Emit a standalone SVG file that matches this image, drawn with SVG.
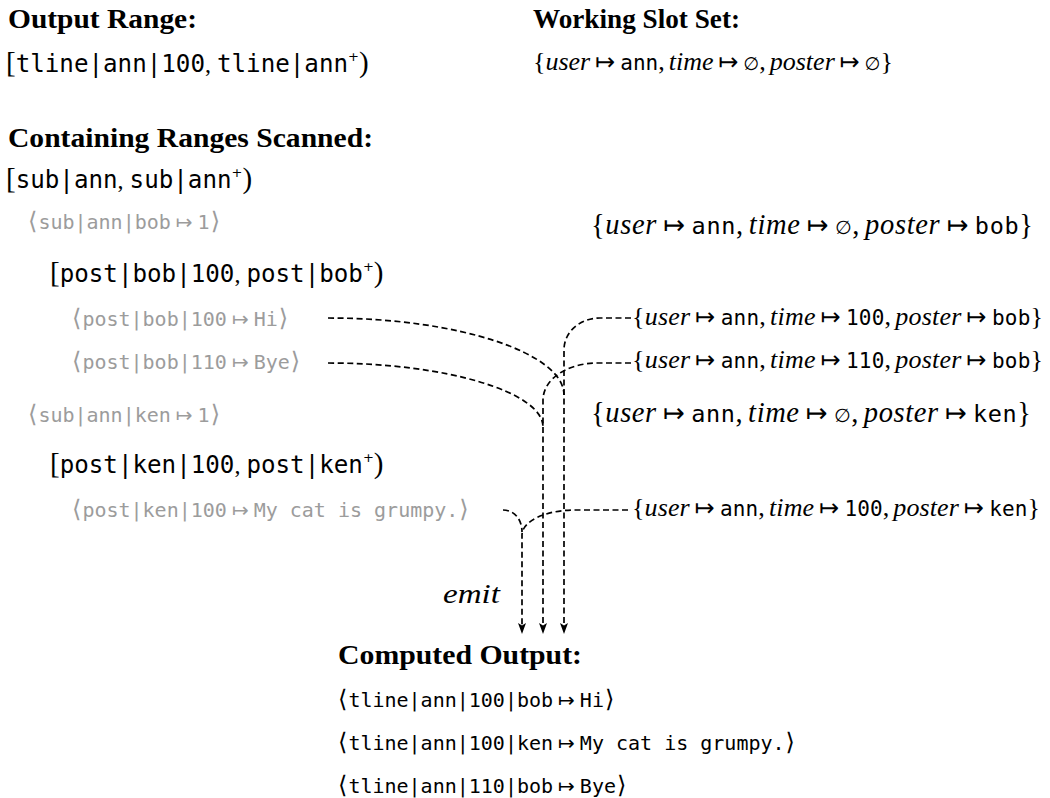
<svg xmlns="http://www.w3.org/2000/svg" width="1050" height="798" viewBox="0 0 1050 798">
  <defs>
    <marker id="arrow" markerUnits="userSpaceOnUse" viewBox="0 0 11 8" markerWidth="11" markerHeight="8" refX="4" refY="4" orient="auto">
      <path d="M0,0 L11,4 L0,8 L2.5,4 z" fill="#000" stroke="none"/>
    </marker>
    <style>
      .h { font-family: "Liberation Serif", "DejaVu Serif", serif; font-weight: bold; font-size: 26.5px; fill: #000; }
      .fm { font-family: "DejaVu Sans Mono", "Liberation Mono", monospace; }
      .fs { font-family: "Liberation Serif", "DejaVu Serif", serif; }
      .fi { font-family: "Liberation Serif", "DejaVu Serif", serif; font-style: italic; }
      .fx { font-family: "DejaVu Sans", sans-serif; }
      .rng { font-size: 24.2px; fill: #000; }
      .tup { font-size: 20px; fill: #9c9c9c; }
      .out { font-size: 20px; fill: #000; }
      .set { font-size: 26px; fill: #000; }
      .big { font-size: 28.5px; fill: #000; }
      .edge { fill: none; stroke: #000; stroke-width: 1.7; stroke-dasharray: 6 3.5; }
    </style>
  </defs>

  <!-- headings -->
  <g id="heading-output-range"><text class="h" x="8" y="28" textLength="189" lengthAdjust="spacingAndGlyphs">Output Range:</text></g>
  <g id="heading-slot-set"><text class="h" x="533" y="28" textLength="207" lengthAdjust="spacingAndGlyphs">Working Slot Set:</text></g>
  <g id="heading-scanned"><text class="h" x="8" y="147" textLength="365" lengthAdjust="spacingAndGlyphs">Containing Ranges Scanned:</text></g>
  <g id="heading-computed"><text class="h" x="338" y="664" textLength="244" lengthAdjust="spacingAndGlyphs">Computed Output:</text></g>

  <!-- output range -->
  <g id="range-tline">
    <text class="rng" x="6" y="72"><tspan class="fs" font-size="29">[</tspan><tspan class="fm">tline|ann|100</tspan><tspan class="fs" font-size="24">,</tspan><tspan class="fm" dx="6">tline|ann</tspan><tspan class="fx" font-size="13" dy="-11">+</tspan><tspan class="fs" font-size="29" dy="11">)</tspan></text>
  </g>

  <!-- initial slot set -->
  <g id="slots-initial">
    <text class="set" x="533" y="70" textLength="360" lengthAdjust="spacing"><tspan class="fs">{</tspan><tspan class="fi">user</tspan><tspan class="fx" font-size="24" dx="5">↦</tspan><tspan class="fm" font-size="21" dx="5">ann</tspan><tspan class="fs">,</tspan><tspan class="fi" dx="4">time</tspan><tspan class="fx" font-size="24" dx="5">↦</tspan><tspan class="fx" font-size="18" dx="5">∅</tspan><tspan class="fs">,</tspan><tspan class="fi" dx="4">poster</tspan><tspan class="fx" font-size="24" dx="5">↦</tspan><tspan class="fx" font-size="18" dx="5">∅</tspan><tspan class="fs">}</tspan></text>
  </g>

  <!-- scanned ranges and tuples -->
  <g id="range-sub-ann">
    <text class="rng" x="6" y="188"><tspan class="fs" font-size="29">[</tspan><tspan class="fm">sub|ann</tspan><tspan class="fs" font-size="24">,</tspan><tspan class="fm" dx="6">sub|ann</tspan><tspan class="fx" font-size="13" dy="-11">+</tspan><tspan class="fs" font-size="29" dy="11">)</tspan></text>
  </g>
  <g id="tuple-sub-bob">
    <text class="tup" x="28" y="229"><tspan class="fx" font-size="24">⟨</tspan><tspan class="fm" dx="1">sub|ann|bob</tspan><tspan class="fx" font-size="20" dx="5">↦</tspan><tspan class="fm" dx="5">1</tspan><tspan class="fx" font-size="24" dx="1">⟩</tspan></text>
  </g>
  <g id="slots-bob">
    <text class="big" x="591" y="234" textLength="442" lengthAdjust="spacing"><tspan class="fs">{</tspan><tspan class="fi">user</tspan><tspan class="fx" font-size="26" dx="6">↦</tspan><tspan class="fm" font-size="23.5" dx="6">ann</tspan><tspan class="fs">,</tspan><tspan class="fi" dx="5">time</tspan><tspan class="fx" font-size="26" dx="6">↦</tspan><tspan class="fx" font-size="19" dx="6">∅</tspan><tspan class="fs">,</tspan><tspan class="fi" dx="5">poster</tspan><tspan class="fx" font-size="26" dx="6">↦</tspan><tspan class="fm" font-size="23.5" dx="6">bob</tspan><tspan class="fs">}</tspan></text>
  </g>
  <g id="range-post-bob">
    <text class="rng" x="50" y="282"><tspan class="fs" font-size="29">[</tspan><tspan class="fm">post|bob|100</tspan><tspan class="fs" font-size="24">,</tspan><tspan class="fm" dx="6">post|bob</tspan><tspan class="fx" font-size="13" dy="-11">+</tspan><tspan class="fs" font-size="29" dy="11">)</tspan></text>
  </g>
  <g id="tuple-post-bob-100">
    <text class="tup" x="72" y="326"><tspan class="fx" font-size="24">⟨</tspan><tspan class="fm" dx="1">post|bob|100</tspan><tspan class="fx" font-size="20" dx="5">↦</tspan><tspan class="fm" dx="5">Hi</tspan><tspan class="fx" font-size="24" dx="1">⟩</tspan></text>
  </g>
  <g id="slots-bob-100">
    <text class="set" x="632" y="325" textLength="411" lengthAdjust="spacing"><tspan class="fs">{</tspan><tspan class="fi">user</tspan><tspan class="fx" font-size="24" dx="5">↦</tspan><tspan class="fm" font-size="21" dx="5">ann</tspan><tspan class="fs">,</tspan><tspan class="fi" dx="4">time</tspan><tspan class="fx" font-size="24" dx="5">↦</tspan><tspan class="fm" font-size="21" dx="5">100</tspan><tspan class="fs">,</tspan><tspan class="fi" dx="4">poster</tspan><tspan class="fx" font-size="24" dx="5">↦</tspan><tspan class="fm" font-size="21" dx="5">bob</tspan><tspan class="fs">}</tspan></text>
  </g>
  <g id="tuple-post-bob-110">
    <text class="tup" x="72" y="369"><tspan class="fx" font-size="24">⟨</tspan><tspan class="fm" dx="1">post|bob|110</tspan><tspan class="fx" font-size="20" dx="5">↦</tspan><tspan class="fm" dx="5">Bye</tspan><tspan class="fx" font-size="24" dx="1">⟩</tspan></text>
  </g>
  <g id="slots-bob-110">
    <text class="set" x="632" y="368" textLength="411" lengthAdjust="spacing"><tspan class="fs">{</tspan><tspan class="fi">user</tspan><tspan class="fx" font-size="24" dx="5">↦</tspan><tspan class="fm" font-size="21" dx="5">ann</tspan><tspan class="fs">,</tspan><tspan class="fi" dx="4">time</tspan><tspan class="fx" font-size="24" dx="5">↦</tspan><tspan class="fm" font-size="21" dx="5">110</tspan><tspan class="fs">,</tspan><tspan class="fi" dx="4">poster</tspan><tspan class="fx" font-size="24" dx="5">↦</tspan><tspan class="fm" font-size="21" dx="5">bob</tspan><tspan class="fs">}</tspan></text>
  </g>
  <g id="tuple-sub-ken">
    <text class="tup" x="28" y="422"><tspan class="fx" font-size="24">⟨</tspan><tspan class="fm" dx="1">sub|ann|ken</tspan><tspan class="fx" font-size="20" dx="5">↦</tspan><tspan class="fm" dx="5">1</tspan><tspan class="fx" font-size="24" dx="1">⟩</tspan></text>
  </g>
  <g id="slots-ken">
    <text class="big" x="591" y="422" textLength="440" lengthAdjust="spacing"><tspan class="fs">{</tspan><tspan class="fi">user</tspan><tspan class="fx" font-size="26" dx="6">↦</tspan><tspan class="fm" font-size="23.5" dx="6">ann</tspan><tspan class="fs">,</tspan><tspan class="fi" dx="5">time</tspan><tspan class="fx" font-size="26" dx="6">↦</tspan><tspan class="fx" font-size="19" dx="6">∅</tspan><tspan class="fs">,</tspan><tspan class="fi" dx="5">poster</tspan><tspan class="fx" font-size="26" dx="6">↦</tspan><tspan class="fm" font-size="23.5" dx="6">ken</tspan><tspan class="fs">}</tspan></text>
  </g>
  <g id="range-post-ken">
    <text class="rng" x="50" y="473"><tspan class="fs" font-size="29">[</tspan><tspan class="fm">post|ken|100</tspan><tspan class="fs" font-size="24">,</tspan><tspan class="fm" dx="6">post|ken</tspan><tspan class="fx" font-size="13" dy="-11">+</tspan><tspan class="fs" font-size="29" dy="11">)</tspan></text>
  </g>
  <g id="tuple-post-ken-100">
    <text class="tup" x="72" y="517"><tspan class="fx" font-size="24">⟨</tspan><tspan class="fm" dx="1">post|ken|100</tspan><tspan class="fx" font-size="20" dx="5">↦</tspan><tspan class="fm" dx="5">My cat is grumpy.</tspan><tspan class="fx" font-size="24" dx="1">⟩</tspan></text>
  </g>
  <g id="slots-ken-100">
    <text class="set" x="632" y="516" textLength="408" lengthAdjust="spacing"><tspan class="fs">{</tspan><tspan class="fi">user</tspan><tspan class="fx" font-size="24" dx="5">↦</tspan><tspan class="fm" font-size="21" dx="5">ann</tspan><tspan class="fs">,</tspan><tspan class="fi" dx="4">time</tspan><tspan class="fx" font-size="24" dx="5">↦</tspan><tspan class="fm" font-size="21" dx="5">100</tspan><tspan class="fs">,</tspan><tspan class="fi" dx="4">poster</tspan><tspan class="fx" font-size="24" dx="5">↦</tspan><tspan class="fm" font-size="21" dx="5">ken</tspan><tspan class="fs">}</tspan></text>
  </g>

  <!-- emit label -->
  <g id="label-emit"><text class="fi" x="443" y="603" font-size="27" textLength="57" lengthAdjust="spacingAndGlyphs">emit</text></g>

  <!-- computed output tuples -->
  <g id="output-100-bob">
    <text class="out" x="338" y="707"><tspan class="fx" font-size="24">⟨</tspan><tspan class="fm" dx="1">tline|ann|100|bob</tspan><tspan class="fx" font-size="20" dx="5">↦</tspan><tspan class="fm" dx="5">Hi</tspan><tspan class="fx" font-size="24" dx="1">⟩</tspan></text>
  </g>
  <g id="output-100-ken">
    <text class="out" x="338" y="750"><tspan class="fx" font-size="24">⟨</tspan><tspan class="fm" dx="1">tline|ann|100|ken</tspan><tspan class="fx" font-size="20" dx="5">↦</tspan><tspan class="fm" dx="5">My cat is grumpy.</tspan><tspan class="fx" font-size="24" dx="1">⟩</tspan></text>
  </g>
  <g id="output-110-bob">
    <text class="out" x="338" y="793"><tspan class="fx" font-size="24">⟨</tspan><tspan class="fm" dx="1">tline|ann|110|bob</tspan><tspan class="fx" font-size="20" dx="5">↦</tspan><tspan class="fm" dx="5">Bye</tspan><tspan class="fx" font-size="24" dx="1">⟩</tspan></text>
  </g>

  <!-- joins: each tuple and its slot set flow down into one emitted output -->
  <g id="connectors" class="edge">
    <path d="M328,318 C458,318 564,353 564,395"/>
    <path d="M631,318 L600,318 C581,318 564,331 564,350 L564,627" marker-end="url(#arrow)"/>
    <path d="M328,363 C446,363 543,392 543,427"/>
    <path d="M631,363 L598,363 C566,363 543,380 543,400 L543,627" marker-end="url(#arrow)"/>
    <path d="M503,510 C514,510 522,519 522,532"/>
    <path d="M628,510 L575,510 C546,510 522,521 522,535 L522,627" marker-end="url(#arrow)"/>
  </g>
</svg>
